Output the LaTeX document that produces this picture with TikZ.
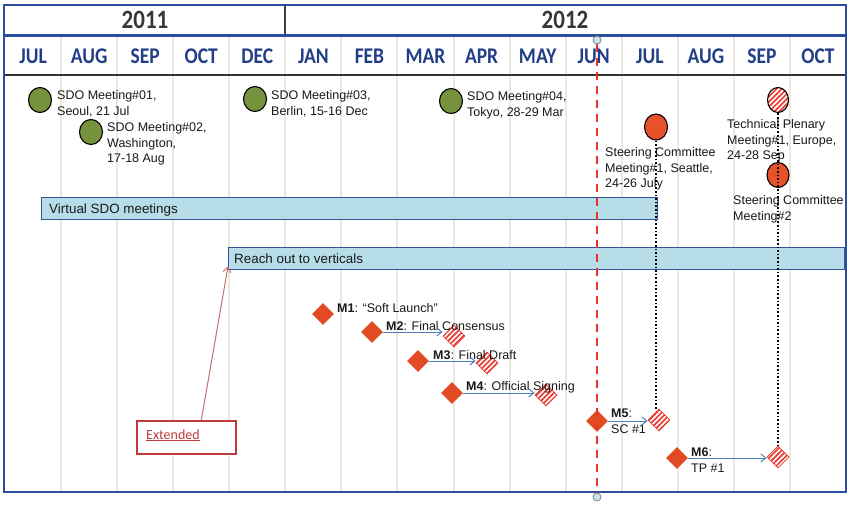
\documentclass[tikz,border=0pt]{standalone}
\usepackage{fontspec}
\usepackage{graphicx}
\setmainfont{Liberation Sans}
\newfontfamily\calfont{Carlito}
\usetikzlibrary{shapes.geometric,patterns.meta,arrows.meta,calc}
\definecolor{frameblue}{RGB}{43,78,160}
\definecolor{monthblue}{RGB}{33,62,135}
\definecolor{yeargray}{RGB}{55,55,55}
\definecolor{gridc}{RGB}{236,232,220}
\definecolor{barfill}{RGB}{183,222,232}
\definecolor{barline}{RGB}{47,85,151}
\definecolor{sdogreen}{RGB}{118,146,60}
\definecolor{scred}{RGB}{232,82,42}
\definecolor{msred}{RGB}{226,74,36}
\definecolor{hatchred}{RGB}{232,60,50}
\definecolor{nowred}{RGB}{232,52,40}
\definecolor{arrblue}{RGB}{79,129,189}
\definecolor{extred}{RGB}{192,60,60}
\definecolor{extarr}{RGB}{200,110,110}
\definecolor{txtc}{RGB}{25,25,25}
\definecolor{dotc}{RGB}{200,228,238}
\newcommand{\mlab}[1]{\scalebox{1}[1.15]{#1}}
\begin{document}
\begin{tikzpicture}[x=1pt,y=-1pt,
  grid/.style={draw=gridc,line width=2pt},
  month/.style={font=\calfont\bfseries\fontsize{19.5}{20}\selectfont,text=monthblue,inner sep=0},
  year/.style={font=\calfont\bfseries\fontsize{23}{24}\selectfont,text=yeargray,inner sep=0},
  txt/.style={font=\fontsize{12.5}{15.8}\selectfont,text=txtc,inner sep=0,align=left,anchor=base west},
  mtxt/.style={font=\fontsize{12.5}{15.8}\selectfont,text=txtc,inner sep=0,align=left,anchor=north west},
  bartxt/.style={font=\fontsize{13.4}{15}\selectfont,text=txtc,inner sep=0,anchor=base west},
  bar/.style={draw=barline,line width=1.4pt,fill=barfill},
  sdo/.style={ellipse,draw=black,line width=1.1pt,fill=sdogreen,minimum width=23,minimum height=25,inner sep=0},
  scc/.style={ellipse,draw=black,line width=1.1pt,fill=scred,minimum width=23,minimum height=26,inner sep=0},
  tpc/.style={ellipse,draw=black,line width=1.1pt,preaction={fill=white},pattern={Lines[angle=45,distance=3.6pt,line width=1.7pt]},pattern color=hatchred,minimum width=21,minimum height=25,inner sep=0},
  mdia/.style={diamond,aspect=1,inner sep=0,minimum width=22,minimum height=22,fill=msred},
  hdia/.style={diamond,aspect=1,inner sep=0,minimum width=22,minimum height=22,preaction={fill=white},pattern={Lines[angle=45,distance=3.6pt,line width=1.7pt]},pattern color=hatchred,draw=hatchred,line width=0.8pt},
  marr/.style={draw=arrblue,line width=1pt,-{Straight Barb[length=5pt,width=8pt]}},
  dotl/.style={draw=black,line width=1.6pt,dotted},
  nowdot/.style={circle,draw=gray,line width=0.8pt,fill=dotc,minimum size=8,inner sep=0}
]
\useasboundingbox (0,0) rectangle (850,504);
\fill[white] (0,0) rectangle (850,504);
% grid
\foreach \i in {1,...,14} \draw[grid] ({5+56.07*\i},37) -- ({5+56.07*\i},491);
% bars
\node[bar,minimum width=616,minimum height=22,inner sep=0,anchor=north west] (virt) at (41,197) {};
\node[bartxt] (virtt) at (49,213) {Virtual SDO meetings};
\node[bar,minimum width=616,minimum height=22,inner sep=0,anchor=north west] (reach) at (228,247) {};
\node[bartxt] (reacht) at (234,263) {Reach out to verticals};
% frame and header
\draw[black!80,line width=1.5pt] (4,75) -- (846,75);
\draw[black!75,line width=1.2pt] (285,5) -- (285,35);
\draw[frameblue,line width=2.5pt] (4,35.5) -- (846,35.5);
\draw[frameblue,line width=2.6pt] (4,5) rectangle (846,492);
\node[year] (y2011) at (145,20) {\mlab{2011}};
\node[year] (y2012) at (565,20) {\mlab{2012}};
\foreach \m [count=\i from 0] in {JUL,AUG,SEP,OCT,DEC,JAN,FEB,MAR,APR,MAY,JUN,JUL,AUG,SEP,OCT}
  \node[month] (mon\i) at ({5+56.07*(\i+0.5)},56) {\mlab{\m}};
% meetings
\node[sdo] (s1) at (40,100) {};
\node[mtxt] (s1t) at (57,90) {SDO Meeting\#01,\\Seoul, 21 Jul};
\node[sdo] (s2) at (91,132) {};
\node[mtxt] (s2t) at (107,122) {SDO Meeting\#02,\\Washington,\\17-18 Aug};
\node[sdo] (s3) at (255,99) {};
\node[mtxt] (s3t) at (271,90) {SDO Meeting\#03,\\Berlin, 15-16 Dec};
\node[sdo] (s4) at (451,101) {};
\node[mtxt] (s4t) at (467,91) {SDO Meeting\#04,\\Tokyo, 28-29 Mar};
\node[scc] (sc1) at (656,127) {};
\node[mtxt] (sc1t) at (605,147) {Steering Committee\\Meeting\#1, Seattle,\\24-26 July};
\node[tpc] (tp) at (778,100) {};
\node[mtxt] (tpt) at (727,119) {Technical Plenary\\Meeting\#1, Europe,\\24-28 Sep};
\node[scc,minimum width=22,minimum height=25] (sc2) at (778,175) {};
\node[mtxt] (sc2t) at (733,195) {Steering Committee\\Meeting\#2};
% milestones
\node[mdia] (m1) at (323,314) {};
\node[txt] (m1t) at (337,312) {\textbf{M1}: “Soft Launch”};
\node[mdia] (m2) at (372,332) {};
\node[hdia] (h2) at (454,336) {};
\node[txt] (m2t) at (386,330) {\textbf{M2}: Final Consensus};
\node[mdia] (m3) at (418,361) {};
\node[hdia] (h3) at (487,363) {};
\node[txt] (m3t) at (433,359) {\textbf{M3}: Final Draft};
\node[mdia] (m4) at (452,393) {};
\node[hdia] (h4) at (546,395) {};
\node[txt] (m4t) at (466,390) {\textbf{M4}: Official Signing};
\node[mdia] (m5) at (597,421) {};
\node[hdia] (h5) at (659,420) {};
\node[mtxt] (m5t) at (611,409) {\textbf{M5}:\\SC \#1};
\node[mdia] (m6) at (677,458) {};
\node[hdia] (h6) at (778,457) {};
\node[mtxt] (m6t) at (691,448) {\textbf{M6}:\\TP \#1};
\draw[marr] (m2.east) -- (m2.east -| h2.west);
\draw[marr] (m3.east) -- (m3.east -| h3.west);
\draw[marr] (m4.east) -- (m4.east -| h4.west);
\draw[marr] (m5.east) -- (m5.east -| h5.west);
\draw[marr] (m6.east) -- (m6.east -| h6.west);
% dotted links
\draw[dotl] (sc1.south) -- (sc1.south |- h5.north);
\draw[dotl] (tp.south) -- (tp.south |- h6.north);
% now line
\node[nowdot] (nowtop) at (597,40) {};
\node[nowdot] (nowbot) at (597,497) {};
\draw[nowred,line width=2pt,dash pattern=on 8pt off 6pt] (nowtop.south) -- (nowbot.north);
% extended
\node[draw=extred,line width=1.5pt,fill=white,minimum width=99,minimum height=33,inner sep=0,anchor=north west] (ext) at (136,420) {};
\node[font=\calfont\fontsize{14}{16}\selectfont,text=extred,inner sep=0,anchor=base west] (extt) at (146,439) {\underline{Extended}};
\coordinate (extfrom) at ($(ext.north west)!0.65!(ext.north east)$);
\draw[extarr,line width=1pt,-{Straight Barb[length=5pt,width=8pt]}] (extfrom) -- ($(reach.south west)+(0,-4)$);
\end{tikzpicture}
\end{document}
